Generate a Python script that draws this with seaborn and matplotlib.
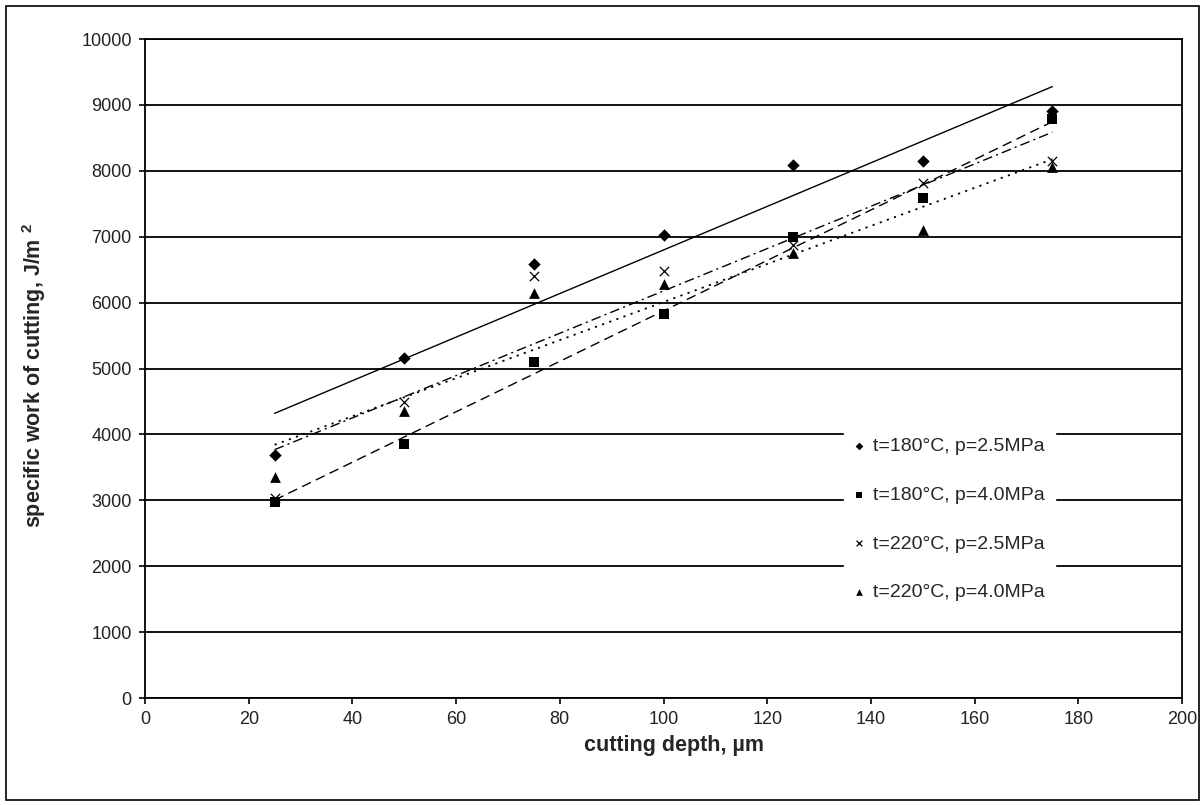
import pandas as pd
import matplotlib
matplotlib.use("Agg")
import matplotlib.pyplot as plt
from matplotlib.patches import Rectangle
import seaborn as sns

# ---- data -----------------------------------------------------
depth = [25, 50, 75, 100, 125, 150, 175]
w_180_25 = [3680, 5160, 6590, 7020, 8090, 8150, 8900]
w_180_40 = [2970, 3860, 5100, 5820, 7000, 7590, 8780]
w_220_25 = [3030, 4490, 6400, 6480, 6880, 7810, 8150]
w_220_40 = [3350, 4360, 6150, 6280, 6760, 7100, 8060]

labels = ["t=180°C, p=2.5MPa", "t=180°C, p=4.0MPa",
          "t=220°C, p=2.5MPa", "t=220°C, p=4.0MPa"]
x_ticks = list(range(0, 201, 20))
y_ticks = list(range(0, 10001, 1000))

# ---- style ----------------------------------------------------
sns.set_style("white")
plt.rcParams["font.family"] = ["Liberation Sans", "DejaVu Sans"]
plt.rcParams["mathtext.fontset"] = "custom"
plt.rcParams["mathtext.bf"] = "Liberation Sans:bold"
plt.rcParams["mathtext.rm"] = "Liberation Sans"

fig = plt.figure(figsize=(12.04, 8.05), dpi=100)
ax = fig.add_axes([145 / 1204, 107 / 805, 1037 / 1204, 659 / 805])

series = [
    (w_180_25, "D", 40, "-", 1.0),
    (w_180_40, "s", 55, (0, (7, 4)), 1.0),
    (w_220_25, "x", 45, (0, (7, 3, 1.5, 3)), 1.0),
    (w_220_40, "^", 60, (0, (1.2, 3)), 1.3),
]

handles = []
for (vals, mk, size, ls, lw), lab in zip(series, labels):
    df = pd.DataFrame({"depth": depth, "work": vals})
    # linear trend line over the data range
    sns.regplot(data=df, x="depth", y="work", ax=ax, scatter=False, ci=None,
                truncate=True, color="black",
                line_kws={"linestyle": ls, "linewidth": lw})
    pts = ax.scatter(df["depth"], df["work"], marker=mk, s=size, color="black",
                     linewidths=0.9 if mk == "x" else 0, zorder=4, label=lab)
    handles.append(pts)

ax.set_xlim(0, 200)
ax.set_ylim(0, 10000)
ax.set_xticks(x_ticks)
ax.set_yticks(y_ticks)
ax.yaxis.grid(True, color="black", linewidth=1.3)
ax.set_axisbelow(True)
for sp in ax.spines.values():
    sp.set_visible(True)
    sp.set_color("black")
    sp.set_linewidth(1.3)
ax.tick_params(axis="both", direction="out", length=4.5, width=1.2,
               color="black", labelsize=13, labelcolor="#222222", pad=5)
ax.tick_params(left=True, bottom=True)

ax.set_xlabel("cutting depth, µm", fontsize=15.5, fontweight="bold")
ax.set_ylabel(r"specific work of cutting, J/m $^{\mathbf{2}}$",
              fontsize=15.5, fontweight="bold")
ax.xaxis.set_label_coords(0.51, -0.056)
ax.yaxis.set_label_coords(-0.094, 0.49)

leg = ax.legend(handles=handles, labels=labels, loc="upper left",
                bbox_to_anchor=(0.674, 0.41), frameon=True, fancybox=False,
                fontsize=14, markerscale=0.62, handlelength=0.6,
                handletextpad=0.4, labelspacing=1.6, borderpad=0.5,
                borderaxespad=0)
leg.get_frame().set_facecolor("white")
leg.get_frame().set_edgecolor("white")
leg.get_frame().set_alpha(1)

# outer frame around the whole chart
fig.patches.append(Rectangle((6 / 1204, 5 / 805), 1193 / 1204, 794 / 805,
                             transform=fig.transFigure, fill=False,
                             edgecolor="black", linewidth=1.2))

fig.savefig("out.png", dpi=100)
plt.close(fig)
